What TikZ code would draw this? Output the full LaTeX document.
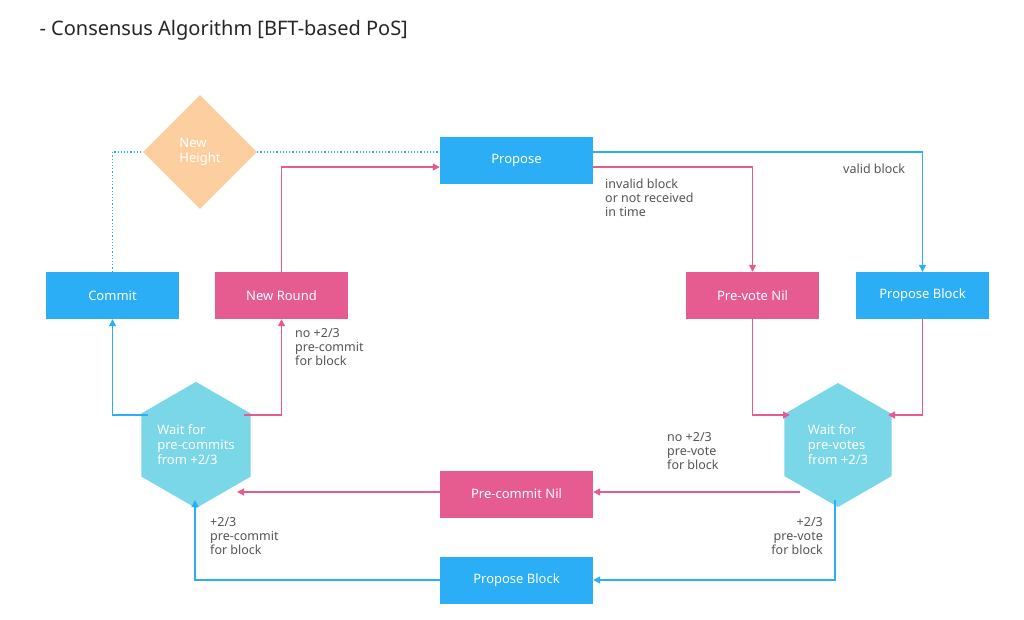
\documentclass[tikz,border=0pt]{standalone}
\usepackage{fontspec}
\setmainfont{Noto Sans}
\usetikzlibrary{shapes.geometric,calc,arrows.meta}
\definecolor{cblue}{HTML}{2BAEF5}
\definecolor{cpink}{HTML}{E65C91}
\definecolor{chex}{HTML}{7AD7E8}
\definecolor{cdia}{HTML}{FDCFA0}
\definecolor{ctxt}{HTML}{555555}
\begin{document}
\begin{tikzpicture}[x=1pt,y=-1pt,
  box/.style={rectangle,minimum width=133pt,minimum height=47pt,text=white,font=\fontsize{13}{15}\selectfont,inner sep=0pt},
  bbox/.style={box,fill=cblue},
  pbox/.style={box,fill=cpink},
  hex/.style={regular polygon,regular polygon sides=6,shape border rotate=30,minimum size=124pt,inner sep=0pt,fill=chex,text=white,align=left,font=\fontsize{13}{15}\selectfont},
  bl/.style={cblue,line width=1.3pt,-{Triangle[length=7pt,width=7pt]}},
  pl/.style={cpink,line width=1.3pt,-{Triangle[length=7pt,width=7pt]}},
  lab/.style={text=ctxt,font=\fontsize{12.5}{14}\selectfont,align=left,inner sep=0pt}]
\useasboundingbox[fill=white] (0,0) rectangle (1024,619);
\node[anchor=west,font=\fontsize{20}{24}\selectfont,text=black!85] (title) at (36,30) {- Consensus Algorithm [BFT-based PoS]};
\node[diamond,fill=cdia,minimum width=114pt,minimum height=114pt,inner sep=0pt,text=white,align=left,font=\fontsize{13}{15}\selectfont] (nh) at (200,152) {New\\Height};
\node[bbox,minimum width=153pt] (prop) at (516.5,160) {Propose};
\node[bbox] (commit) at (112.5,295.5) {Commit};
\node[pbox] (nr) at (281.5,295.5) {New Round};
\node[pbox] (pvn) at (752.5,295.5) {Pre-vote Nil};
\node[bbox] (pb1) at (922.5,295.5) {Propose Block};
\node[hex] (hl) at (196,445) {Wait for\\pre-commits\\from +2/3};
\node[hex] (hr) at (838,445) {Wait for\\pre-votes\\from +2/3};
\node[pbox,minimum width=153pt] (pcn) at (516.5,494) {Pre-commit Nil};
\node[bbox,minimum width=153pt] (pb2) at (516.5,580) {Propose Block};
% dotted
\draw[cblue,line width=1.2pt,dotted] (commit.north) -- (commit.north |- nh.west) -- (nh.west);
\draw[cblue,line width=1.2pt,dotted] (nh.east) -- (prop.west |- nh.east);
% pink
\draw[pl] (nr.north) -- (nr.north |- 0,167) -- (prop.west |- 0,167);
\draw[pl] (prop.east |- 0,167) -- (pvn.north |- 0,167) -- (pvn.north);
\draw[bl] (prop.east |- 0,152) -- (pb1.north |- 0,152) -- (pb1.north);
\node[lab,anchor=north west] (l1) at (605,179) {invalid block\\or not received\\in time};
\node[lab,anchor=north west] (l2) at (843,164) {valid block};
\coordinate (hrl) at (790,415);
\coordinate (hrr) at (888,415);
\draw[pl] (pvn.south) -- (pvn.south |- hrl) -- (hrl);
\draw[pl] (pb1.south) -- (pb1.south |- hrr) -- (hrr);
\coordinate (hrb) at (800,492);
\draw[pl] (hrb) -- (pcn.east |- hrb);
\node[lab,anchor=north west] (l3) at (667,432) {no +2/3\\pre-vote\\for block};
\coordinate (hlr) at (237,492);
\draw[pl] (pcn.west |- hlr) -- (hlr);
\coordinate (hrs) at (835,500);
\draw[bl] (hrs) -- (hrs |- pb2.east) -- (pb2.east);
\node[lab,anchor=north east,align=right] (l4) at (823,517) {+2/3\\pre-vote\\for block};
\coordinate (hls) at (195,500);
\draw[bl] (pb2.west) -- (hls |- pb2.west) -- (hls);
\node[lab,anchor=north west] (l5) at (210,517) {+2/3\\pre-commit\\for block};
\coordinate (hlu) at (148,415);
\draw[bl] (hlu) -- (commit.south |- hlu) -- (commit.south);
\coordinate (hlv) at (244,415);
\draw[pl] (hlv) -- (nr.south |- hlv) -- (nr.south);
\node[lab,anchor=north west] (l6) at (295,328) {no +2/3\\pre-commit\\for block};
\end{tikzpicture}
\end{document}
